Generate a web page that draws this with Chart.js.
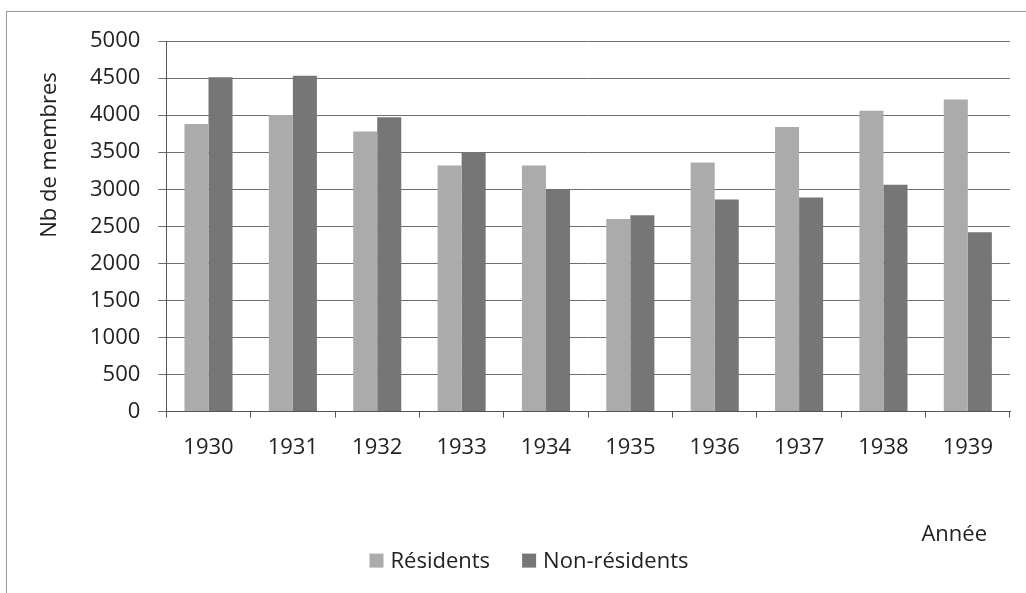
<!DOCTYPE html>
<html>
<head>
<meta charset="utf-8">
<script src="https://cdn.jsdelivr.net/npm/chart.js@4.4.1/dist/chart.umd.min.js"></script>
<style>
  html, body { margin: 0; padding: 0; background: #fff; }
  #wrap { position: relative; width: 1026px; height: 593px; }
  #frame { position: absolute; left: 6px; top: 11px; right: 0; bottom: 0;
           border-left: 1px solid #9a9a9a; border-top: 1px solid #9a9a9a; }
  canvas { position: absolute; left: 0; top: 0; }
</style>
</head>
<body>
<div id="wrap">
  <div id="frame"></div>
  <canvas id="chart" width="1026" height="593"></canvas>
</div>
<script>
const years = ["1930", "1931", "1932", "1933", "1934", "1935", "1936", "1937", "1938", "1939"];
const residents = [3880, 4000, 3780, 3320, 3320, 2600, 3360, 3840, 4060, 4210];
const nonResidents = [4510, 4530, 3970, 3500, 2990, 2650, 2860, 2890, 3060, 2420];
const seriesNames = ["Résidents", "Non-résidents"];
const seriesColors = ["#ababab", "#767676"];
const yTitle = "Nb de membres";
const xTitle = "Année";

const FONT = '"Open Sans", sans-serif';
const TEXT = "#222";

// axis titles and legend drawn by hand so they sit where the original has them
const extras = {
  id: "extras",
  afterDraw(chart) {
    const { ctx, chartArea } = chart;
    ctx.save();
    ctx.font = "22px " + FONT;
    ctx.fillStyle = TEXT;

    // y title, rotated
    ctx.save();
    ctx.translate(chartArea.left - 110, chartArea.top + 114);
    ctx.rotate(-Math.PI / 2);
    ctx.textAlign = "center";
    ctx.textBaseline = "alphabetic";
    ctx.fillText(yTitle, 0, 0);
    ctx.restore();

    // x title, bottom right
    ctx.textAlign = "right";
    ctx.textBaseline = "alphabetic";
    ctx.fillText(xTitle, chartArea.right - 23, chartArea.bottom + 129);

    // legend
    const baseline = chartArea.bottom + 156;
    const box = 14, gap = 7, itemGap = 32;
    const items = chart.data.datasets.map((ds) => ({
      text: ds.label,
      color: ds.backgroundColor,
      w: box + gap + ctx.measureText(ds.label).width,
    }));
    const total = items.reduce((s, it) => s + it.w, 0) + itemGap * (items.length - 1);
    let x = 529 - total / 2;
    ctx.textAlign = "left";
    items.forEach((it) => {
      ctx.fillStyle = it.color;
      ctx.fillRect(x, baseline - box, box, box);
      ctx.fillStyle = TEXT;
      ctx.fillText(it.text, x + box + gap, baseline);
      x += it.w + itemGap;
    });
    ctx.restore();
  },
};

new Chart(document.getElementById("chart"), {
  type: "bar",
  data: {
    labels: years,
    datasets: [
      { label: seriesNames[0], data: residents, backgroundColor: seriesColors[0] },
      { label: seriesNames[1], data: nonResidents, backgroundColor: seriesColors[1] },
    ],
  },
  options: {
    responsive: false,
    animation: false,
    devicePixelRatio: 1,
    layout: { padding: { left: 72, right: 16, top: 41, bottom: 115 } },
    datasets: {
      bar: { categoryPercentage: 0.57, barPercentage: 1.0, borderWidth: 0 },
    },
    plugins: {
      legend: { display: false },
      tooltip: { enabled: false },
    },
    scales: {
      x: {
        grid: {
          display: true,
          drawOnChartArea: false,
          drawTicks: true,
          tickLength: 6,
          color: "#555",
        },
        border: { color: "#555", width: 1 },
        ticks: { color: TEXT, font: { family: FONT, size: 22 }, padding: 17, maxRotation: 0 },
      },
      y: {
        min: 0,
        max: 5000,
        grid: { color: "#6e6e6e", tickLength: 8, lineWidth: 1 },
        border: { color: "#555", width: 1 },
        ticks: {
          stepSize: 500,
          color: TEXT,
          font: { family: FONT, size: 22 },
          padding: 18,
          callback: (v) => String(v),
        },
      },
    },
  },
  plugins: [extras],
});
</script>
</body>
</html>
